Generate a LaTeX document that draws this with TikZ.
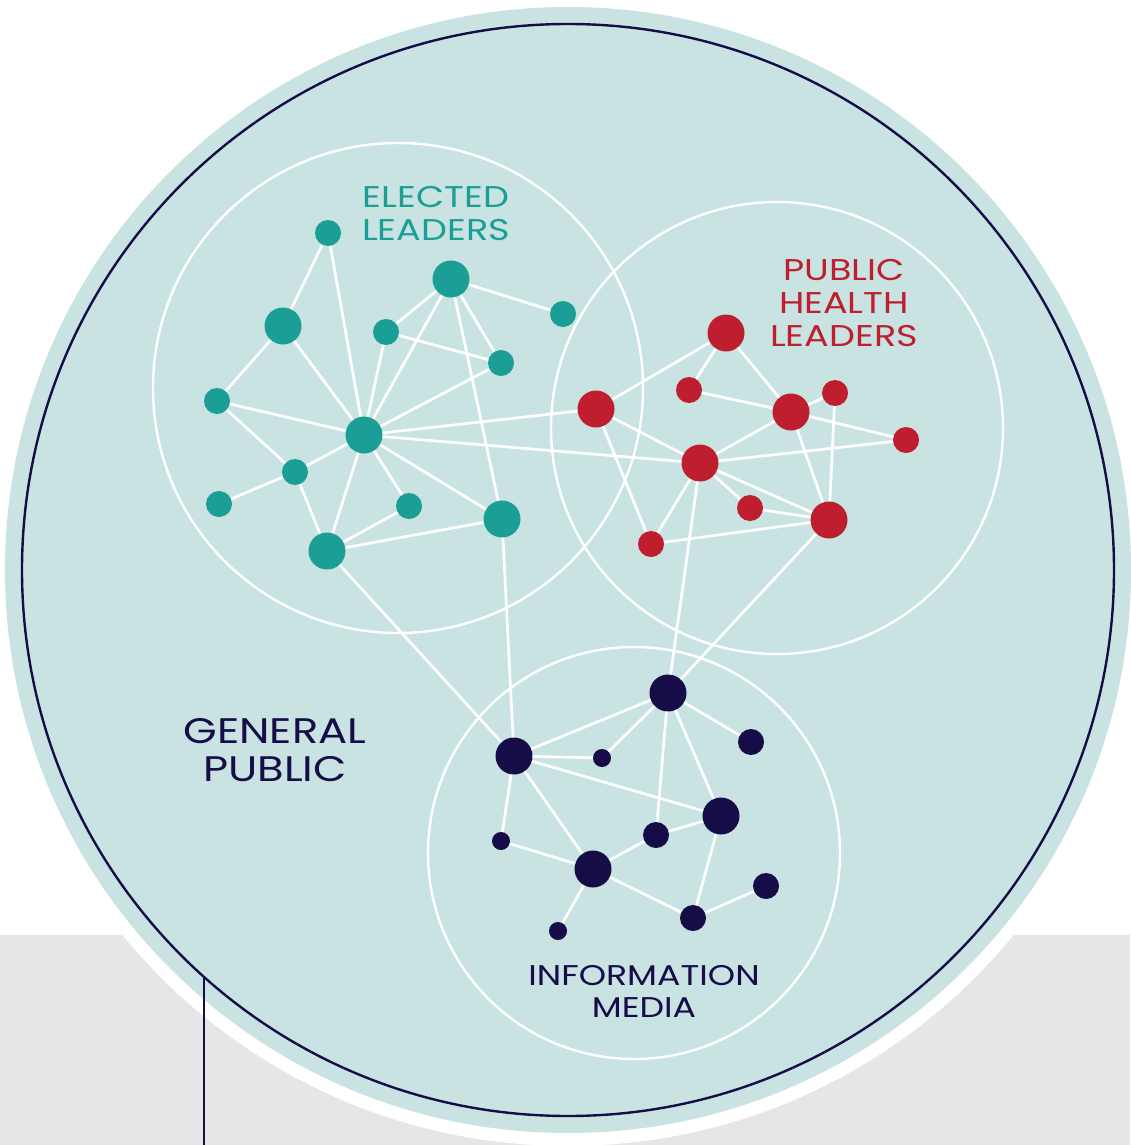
\documentclass[tikz,border=0pt]{standalone}
\usepackage{fontspec}
\setmainfont{Poppins}[FakeStretch=1.22]
\definecolor{bgfill}{HTML}{C8E3E2}
\definecolor{graybg}{HTML}{E5E6E7}
\definecolor{tealc}{HTML}{1A9E96}
\definecolor{redc}{HTML}{BE1E2D}
\definecolor{navyc}{HTML}{160C47}
\tikzset{
  big/.style={circle,inner sep=0pt,minimum size=37pt},
  small/.style={circle,inner sep=0pt,minimum size=26pt},
  tiny/.style={circle,inner sep=0pt,minimum size=18pt},
  tn/.style={fill=tealc},
  rn/.style={fill=redc},
  nn/.style={fill=navyc},
  link/.style={draw=white,line width=2.7pt},
  group/.style={draw=white,line width=2.4pt},
  lab/.style={align=center,inner sep=0pt,font=\fontsize{30}{33}\selectfont},
}
\begin{document}
\begin{tikzpicture}[x=1pt,y=-1pt]
\useasboundingbox (0,0) rectangle (1130,1145);
% background
\fill[graybg] (0,935) rectangle (1130,1145);
\fill[white] (568,570) circle (576);
\fill[bgfill] (568,570) circle (563);
\draw[navyc,line width=2.4pt] (568,570) circle (546);
\coordinate (lineTop) at (204,977);
\coordinate (lineBot) at (204,1145);
\draw[navyc,line width=2.4pt] (lineTop) -- (lineBot);
% group circles
\draw[group] (398,388) circle (245);
\draw[group] (777,428) circle (226);
\draw[group] (634,853) circle (206);
% labels
\node[lab,text=tealc] (lblE) at (436,214) {ELECTED\\LEADERS};
\node[lab,text=redc] (lblP) at (844,303) {PUBLIC\\HEALTH\\LEADERS};
\node[lab,text=navyc,font=\fontsize{35.5}{38}\selectfont] (lblG) at (275,750) {GENERAL\\PUBLIC};
\node[lab,text=navyc,font=\fontsize{28.5}{32}\selectfont] (lblI) at (644,991.5) {INFORMATION\\MEDIA};
% teal nodes
\node[small,tn] (T1) at (328,233) {};
\node[big,tn] (T2) at (451,279) {};
\node[big,tn] (T3) at (283,326) {};
\node[small,tn] (T4) at (563,314) {};
\node[small,tn] (T5) at (386,332) {};
\node[small,tn] (T6) at (501,363) {};
\node[small,tn] (T7) at (217,401) {};
\node[big,tn] (T8) at (364,435) {};
\node[small,tn] (T9) at (295,472) {};
\node[small,tn] (T10) at (219,504) {};
\node[small,tn] (T11) at (409,506) {};
\node[big,tn] (T12) at (502,519) {};
\node[big,tn] (T13) at (327,551) {};
% red nodes
\node[big,rn] (R1) at (726,333) {};
\node[small,rn] (R2) at (689,390) {};
\node[big,rn] (R3) at (596,409) {};
\node[big,rn] (R4) at (791,412) {};
\node[small,rn] (R5) at (835,393) {};
\node[small,rn] (R6) at (906,440) {};
\node[big,rn] (R7) at (700,463) {};
\node[small,rn] (R8) at (750,508) {};
\node[big,rn] (R9) at (829,520) {};
\node[small,rn] (R10) at (651,544) {};
% navy nodes
\node[big,nn] (N1) at (668,693) {};
\node[big,nn] (N2) at (514,756) {};
\node[tiny,nn] (N3) at (602,758) {};
\node[small,nn] (N4) at (751,742) {};
\node[big,nn] (N5) at (721,816) {};
\node[small,nn] (N6) at (656,835) {};
\node[tiny,nn] (N7) at (501,841) {};
\node[big,nn] (N8) at (593,869) {};
\node[small,nn] (N9) at (766,886) {};
\node[small,nn] (N10) at (693,918) {};
\node[tiny,nn] (N11) at (558,931) {};
% teal links
\foreach \a/\b in {T1/T3,T1/T8,T2/T5,T2/T8,T2/T4,T2/T6,T2/T12,T5/T6,T5/T8,T6/T8,
  T3/T7,T3/T8,T7/T8,T7/T9,T8/T9,T8/T13,T8/T11,T8/T12,T9/T10,T9/T13,T11/T13,T12/T13,
  T8/R3,T8/R7,T12/N2,T13/N2}
  \draw[link] (\a) -- (\b);
% red links
\foreach \a/\b in {R3/R1,R1/R2,R1/R4,R2/R4,R4/R5,R4/R6,R3/R7,R3/R10,R7/R4,R7/R6,
  R7/R10,R7/R8,R7/R9,R8/R9,R4/R9,R5/R9,R10/R9,R7/N1,R9/N1}
  \draw[link] (\a) -- (\b);
% navy links
\foreach \a/\b in {N1/N2,N1/N3,N1/N4,N1/N6,N1/N5,N2/N3,N2/N5,N2/N7,N2/N8,N7/N8,
  N8/N6,N6/N5,N5/N10,N8/N10,N10/N9,N8/N11}
  \draw[link] (\a) -- (\b);
\end{tikzpicture}
\end{document}
